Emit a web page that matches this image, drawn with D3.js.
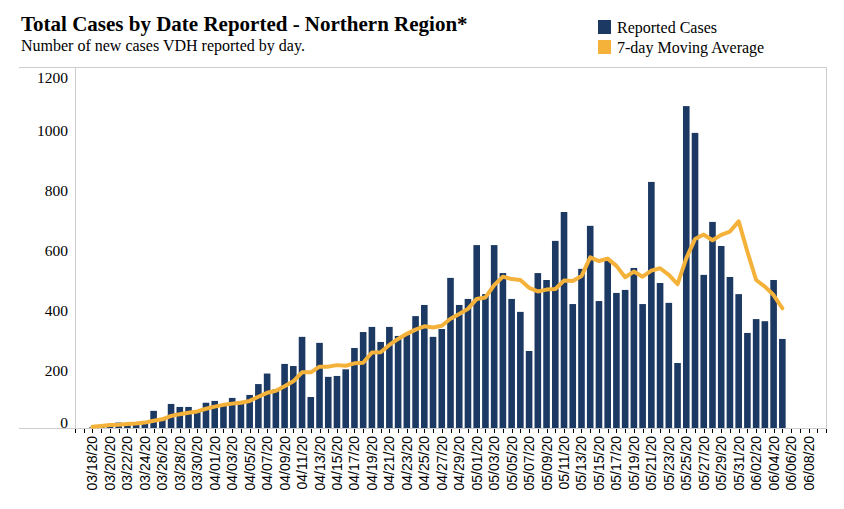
<!DOCTYPE html>
<html>
<head>
<meta charset="utf-8">
<script src="https://cdn.jsdelivr.net/npm/d3@7"></script>
<style>
  html, body { margin: 0; padding: 0; background: #fff; }
  svg { display: block; }
</style>
</head>
<body>
<div id="chart"></div>
<script>
// ---------- data ----------
const dates = [
  "03/18/20","03/19/20","03/20/20","03/21/20","03/22/20","03/23/20","03/24/20","03/25/20","03/26/20","03/27/20",
  "03/28/20","03/29/20","03/30/20","03/31/20",
  "04/01/20","04/02/20","04/03/20","04/04/20","04/05/20","04/06/20","04/07/20","04/08/20","04/09/20","04/10/20",
  "04/11/20","04/12/20","04/13/20","04/14/20","04/15/20","04/16/20","04/17/20","04/18/20","04/19/20","04/20/20",
  "04/21/20","04/22/20","04/23/20","04/24/20","04/25/20","04/26/20","04/27/20","04/28/20","04/29/20","04/30/20",
  "05/01/20","05/02/20","05/03/20","05/04/20","05/05/20","05/06/20","05/07/20","05/08/20","05/09/20","05/10/20",
  "05/11/20","05/12/20","05/13/20","05/14/20","05/15/20","05/16/20","05/17/20","05/18/20","05/19/20","05/20/20",
  "05/21/20","05/22/20","05/23/20","05/24/20","05/25/20","05/26/20","05/27/20","05/28/20","05/29/20","05/30/20",
  "05/31/20","06/01/20","06/02/20","06/03/20","06/04/20","06/05/20"
];
const reportedCases = [
  2, 4, 10, 18, 14, 15, 16, 57, 30, 80,
  70, 70, 55, 84,
  90, 80, 100, 90, 110, 146, 181, 129, 213, 206,
  303, 103, 283, 170, 173, 195, 266, 319, 336, 286,
  336, 306, 310, 372, 409, 303, 329, 499, 409, 429,
  608, 445, 608, 515, 429, 386, 256, 515, 492, 622,
  718, 412, 529, 672, 422, 558, 449, 459, 532, 412,
  818, 482, 416, 216, 1070, 981, 509, 685, 605, 502,
  445, 316, 362, 355, 492, 296
];
const movingAverage = [
  4, 7, 10, 11, 13, 15, 18, 24, 29, 40,
  46, 51, 55, 64,
  71, 77, 81, 84, 90, 104, 117, 124, 139, 155,
  185, 185, 204, 204, 209, 207, 215, 217, 251, 252,
  276, 296, 313, 327, 338, 334, 340, 363, 379, 396,
  429, 434, 475, 503, 495, 492, 466, 454, 460, 462,
  490, 489, 505, 567, 555, 563, 539, 501, 520, 503,
  523, 531, 509, 478, 564, 628, 643, 624, 642, 653,
  687, 586, 492, 470, 442, 398
];
const xDomainLabels = ["03/16/20", "06/10/20"];
const xTickLabels = [
  "03/18/20","03/20/20","03/22/20","03/24/20","03/26/20","03/28/20","03/30/20","04/01/20","04/03/20","04/05/20",
  "04/07/20","04/09/20","04/11/20","04/13/20","04/15/20","04/17/20","04/19/20","04/21/20","04/23/20","04/25/20",
  "04/27/20","04/29/20","05/01/20","05/03/20","05/05/20","05/07/20","05/09/20","05/11/20","05/13/20","05/15/20",
  "05/17/20","05/19/20","05/21/20","05/23/20","05/25/20","05/27/20","05/29/20","05/31/20","06/02/20","06/04/20",
  "06/06/20","06/08/20"
];
const yTicks = [0, 200, 400, 600, 800, 1000, 1200];
const legendLabels = ["Reported Cases", "7-day Moving Average"];

// ---------- setup ----------
const W = 844, H = 509;
const parse = d3.utcParse("%m/%d/%y");
const colors = { bar: "#1c3963", line: "#f5b23a", axis: "#cccccc" };

const plot = { left: 75, right: 826, top: 67, bottom: 428 };

const x = d3.scaleUtc()
  .domain(xDomainLabels.map(parse))
  .range([plot.left, plot.right]);
const y = d3.scaleLinear()
  .domain([0, 1200])
  .range([plot.bottom, plot.top]);

const data = dates.map((d, i) => ({ date: parse(d), cases: reportedCases[i], avg: movingAverage[i] }));

const svg = d3.select("#chart").append("svg")
  .attr("width", W).attr("height", H)
  .attr("viewBox", `0 0 ${W} ${H}`);

svg.append("rect").attr("width", W).attr("height", H).attr("fill", "#fff");

// ---------- title ----------
svg.append("text")
  .attr("x", 21).attr("y", 31)
  .attr("font-family", "'Liberation Serif', 'Times New Roman', serif")
  .attr("font-weight", "bold")
  .attr("font-size", 21)
  .attr("fill", "#000")
  .text("Total Cases by Date Reported - Northern Region*");
svg.append("text")
  .attr("x", 21).attr("y", 51)
  .attr("font-family", "'Liberation Serif', 'Times New Roman', serif")
  .attr("font-size", 16)
  .attr("fill", "#000")
  .text("Number of new cases VDH reported by day.");

// ---------- legend ----------
const legend = svg.append("g").attr("transform", "translate(598,20)");
legendLabels.forEach((lab, i) => {
  const g = legend.append("g").attr("transform", `translate(0,${i * 20})`);
  g.append("rect").attr("width", 13).attr("height", 14)
    .attr("fill", i === 0 ? colors.bar : colors.line);
  g.append("text").attr("x", 19).attr("y", 13)
    .attr("font-family", "'Liberation Serif', 'Times New Roman', serif")
    .attr("font-size", 16).attr("fill", "#000")
    .text(lab);
});

// ---------- frame ----------
const frame = svg.append("g").attr("stroke", colors.axis).attr("stroke-width", 1).attr("fill", "none");
frame.append("line").attr("x1", 19).attr("x2", plot.right + 0.5).attr("y1", plot.top + 0.5).attr("y2", plot.top + 0.5);
frame.append("line").attr("x1", 19).attr("x2", plot.right + 0.5).attr("y1", plot.bottom + 0.5).attr("y2", plot.bottom + 0.5);
frame.append("line").attr("x1", plot.left + 0.5).attr("x2", plot.left + 0.5).attr("y1", plot.top).attr("y2", plot.bottom);
frame.append("line").attr("x1", plot.right + 0.5).attr("x2", plot.right + 0.5).attr("y1", plot.top).attr("y2", plot.bottom);

// ---------- y labels ----------
svg.append("g").selectAll("text").data(yTicks).join("text")
  .attr("x", 68)
  .attr("y", d => y(d) + (d === 1200 ? 10 : d === 0 ? -5.5 : 3))
  .attr("dominant-baseline", "central")
  .attr("text-anchor", "end")
  .attr("font-family", "'Liberation Serif', 'Times New Roman', serif")
  .attr("font-size", 15.5)
  .attr("fill", "#000")
  .text(d => d);

// ---------- bars ----------
const bw = 6.6;
svg.append("g").selectAll("rect").data(data).join("rect")
  .attr("x", d => x(d.date) - bw / 2)
  .attr("width", bw)
  .attr("y", d => y(d.cases))
  .attr("height", d => y(0) - y(d.cases))
  .attr("fill", colors.bar);

// ---------- moving average line ----------
svg.append("path")
  .datum(data)
  .attr("fill", "none")
  .attr("stroke", colors.line)
  .attr("stroke-width", 4)
  .attr("stroke-linejoin", "round")
  .attr("stroke-linecap", "round")
  .attr("d", d3.line().x(d => x(d.date)).y(d => y(d.avg)));

// ---------- x axis ticks ----------
const allDays = d3.utcDay.range(x.domain()[0], d3.utcDay.offset(x.domain()[1], 1));
svg.append("g").selectAll("line").data(allDays).join("line")
  .attr("x1", d => Math.round(x(d)) + 0.5).attr("x2", d => Math.round(x(d)) + 0.5)
  .attr("y1", plot.bottom + 1).attr("y2", plot.bottom + 5)
  .attr("stroke", "#000").attr("stroke-width", 1);

svg.append("g").selectAll("text").data(xTickLabels).join("text")
  .attr("transform", d => `translate(${x(parse(d))},436) rotate(-90)`)
  .attr("text-anchor", "end")
  .attr("dominant-baseline", "central")
  .attr("font-family", "'Liberation Sans', Arial, sans-serif")
  .attr("font-size", 14)
  .attr("fill", "#000")
  .text(d => d);
</script>
</body>
</html>
